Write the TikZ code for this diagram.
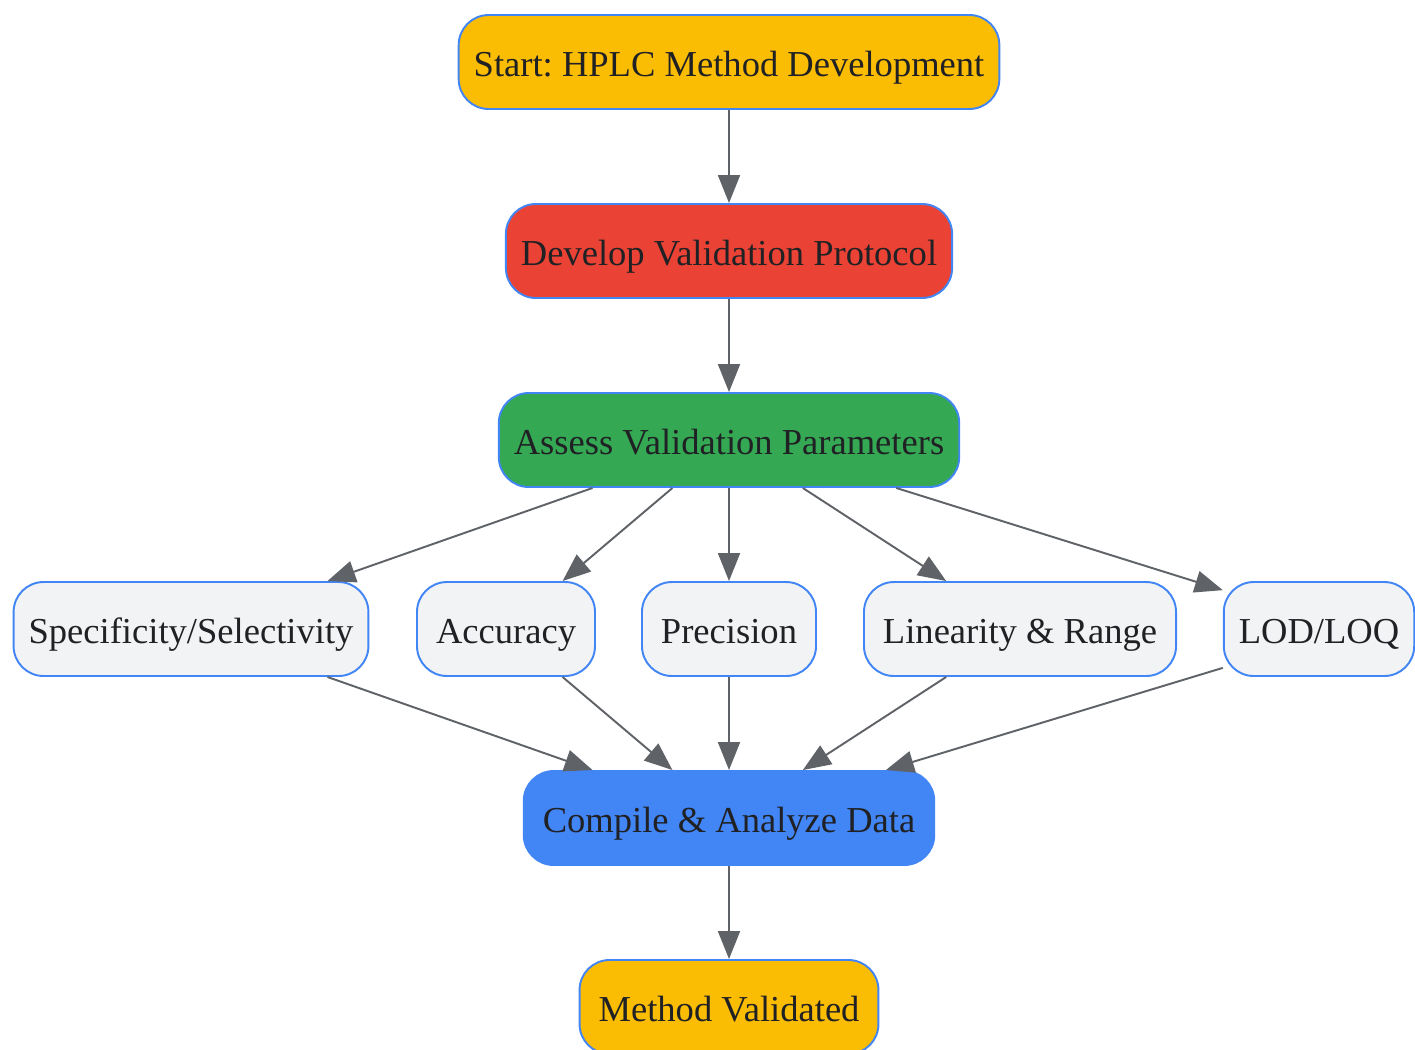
\documentclass[tikz,border=0pt]{standalone}
\usepackage{fontspec}
\setmainfont{Liberation Serif}
\usetikzlibrary{arrows.meta}
\frenchspacing

\definecolor{gborder}{HTML}{4285F4}
\definecolor{gyellow}{HTML}{FBBC04}
\definecolor{gred}{HTML}{EA4335}
\definecolor{ggreen}{HTML}{34A853}
\definecolor{gblue}{HTML}{4285F4}
\definecolor{ggrey}{HTML}{F1F3F4}
\definecolor{gline}{HTML}{5F6368}
\definecolor{gtext}{HTML}{202124}

\tikzset{
  box/.style={draw=gborder, line width=1.1pt, rounded corners=0.6cm,
    minimum height=1.88cm, inner xsep=0.3cm, text=gtext,
    text height=0.56cm, text depth=0cm,
    font=\fontsize{20.8}{25}\selectfont},
  roomy/.style={box, inner xsep=0.38cm},
  flow/.style={draw=gline, line width=1.1pt,
    -{Triangle[length=0.56cm, width=0.44cm]}}
}

\begin{document}
\begin{tikzpicture}
        \useasboundingbox (0,0) rectangle (28.3,-20.98);
        \node[box, fill=gyellow] (start) at (14.58,-1.24) {Start: HPLC Method Development};
        \node[box, fill=gred] (protocol) at (14.58,-5.02) {Develop Validation Protocol};
        \node[box, fill=ggreen] (assess) at (14.58,-8.80) {Assess Validation Parameters};
        \node[box, fill=ggrey] (spec) at (3.82,-12.58) {Specificity/Selectivity};
        \node[roomy, fill=ggrey] (acc) at (10.12,-12.58) {Accuracy};
        \node[roomy, fill=ggrey] (prec) at (14.58,-12.58) {Precision};
        \node[roomy, fill=ggrey] (lin) at (20.40,-12.58) {Linearity \& Range};
        \node[box, fill=ggrey] (lod) at (26.38,-12.58) {LOD/LOQ};
        \node[roomy, fill=gblue, draw=gblue] (compile) at (14.58,-16.36) {Compile \& Analyze Data};
        \node[roomy, fill=gyellow] (done) at (14.58,-20.14) {Method Validated};
        % main line
        \draw[flow] (start) -- (protocol);
        \draw[flow] (protocol) -- (assess);
        % parameters
        \draw[flow] (assess) -- (spec);
        \draw[flow] (assess) -- (acc);
        \draw[flow] (assess) -- (prec);
        \draw[flow] (assess) -- (lin);
        \draw[flow] (assess.-16) -- (lod.158);
        \draw[flow] (spec) -- (compile);
        \draw[flow] (acc) -- (compile);
        \draw[flow] (prec) -- (compile);
        \draw[flow] (lin) -- (compile);
        \draw[flow] (lod.202) -- (compile.17);
        \draw[flow] (compile) -- (done);
        \end{tikzpicture}
\end{document}
